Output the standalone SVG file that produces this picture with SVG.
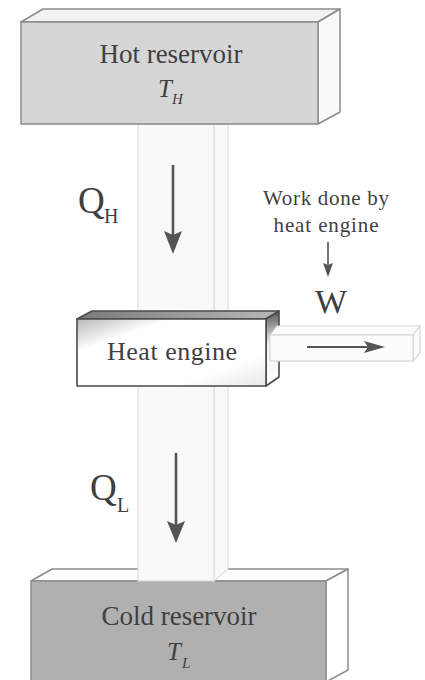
<svg xmlns="http://www.w3.org/2000/svg" width="425" height="680" viewBox="0 0 425 680">
  <defs>
    <linearGradient id="engineFront" x1="0" y1="0" x2="1" y2="1">
      <stop offset="0" stop-color="#b8b8b8"/>
      <stop offset="0.25" stop-color="#ffffff"/>
      <stop offset="0.75" stop-color="#ffffff"/>
      <stop offset="1" stop-color="#e8e8e8"/>
    </linearGradient>
    <linearGradient id="engineTop" x1="0" y1="0" x2="1" y2="0">
      <stop offset="0" stop-color="#7a7a7a"/>
      <stop offset="1" stop-color="#b8b8b8"/>
    </linearGradient>
    <linearGradient id="engineSide" x1="0" y1="0" x2="0" y2="1">
      <stop offset="0" stop-color="#555555"/>
      <stop offset="0.45" stop-color="#f2f2f2"/>
      <stop offset="1" stop-color="#ffffff"/>
    </linearGradient>
  </defs>
  <style>
    .lbl { font-family: "Liberation Serif", "Times New Roman", serif; fill: #3f3f3f; }
    .it { font-style: italic; }
    .res { stroke: #8c8c8c; stroke-width: 1.5; stroke-linejoin: round; }
    .pipe { fill: #f9f9f9; stroke: #dedede; stroke-width: 1.2; }
    .eng { stroke: #4a4a4a; stroke-width: 1.6; stroke-linejoin: round; }
    .bar { fill: #fcfcfc; stroke: #d8d8d8; stroke-width: 1.2; }
    .arrow { stroke: #555; fill: none; }
    .head { fill: #555; stroke: none; }
  </style>

  <rect width="425" height="680" fill="#ffffff"/>

  <!-- cold reservoir block (behind the pipe) -->
  <g id="cold-reservoir">
    <polygon class="res" points="31,581 52,569 348,569 326,581" fill="#ffffff"/>
    <polygon class="res" points="326,581 348,569 348,670 326,682" fill="#ffffff"/>
    <rect class="res" x="31" y="581" width="295" height="104" fill="#b0b0b0"/>
  </g>

  <!-- heat flow pipe from hot to cold reservoir -->
  <g id="pipe">
    <polygon class="pipe" points="214,124 228,124 228,569 214,581"/>
    <rect class="pipe" x="138" y="124" width="76" height="457"/>
  </g>

  <!-- hot reservoir block -->
  <g id="hot-reservoir">
    <polygon class="res" points="21,22 43,9 340,9 318,22" fill="#f2f2f2"/>
    <polygon class="res" points="318,22 340,9 340,112 318,124" fill="#fafafa"/>
    <rect class="res" x="21" y="22" width="297" height="102" fill="#d6d6d6"/>
  </g>

  <!-- heat engine block -->
  <g id="heat-engine">
    <polygon class="eng" points="77,319 92,311 279,311 266,319" fill="url(#engineTop)"/>
    <polygon class="eng" points="266,319 279,311 279,377 266,386" fill="url(#engineSide)"/>
    <rect class="eng" x="77" y="319" width="189" height="67" fill="url(#engineFront)"/>
  </g>

  <!-- work output bar -->
  <g id="work-bar">
    <polygon class="bar" points="270,335 277,326 420,326 413,335"/>
    <polygon class="bar" points="413,335 420,326 420,353 413,361"/>
    <rect class="bar" x="270" y="335" width="143" height="26"/>
  </g>

  <!-- flow arrows -->
  <g id="connectors">
    <line class="arrow" x1="173" y1="165" x2="173" y2="236" stroke-width="2.6"/>
    <path class="head" d="M173,254 L164,231 L173,235 L182,231 Z"/>
    <line class="arrow" x1="176" y1="453" x2="176" y2="525" stroke-width="2.6"/>
    <path class="head" d="M176,543 L167,521 L176,525 L185,521 Z"/>
    <line class="arrow" x1="328" y1="242" x2="328" y2="266" stroke-width="1.6"/>
    <path class="head" d="M328,277 L323,263 L328,265 L333,263 Z"/>
    <line class="arrow" x1="307" y1="347" x2="370" y2="347" stroke-width="2"/>
    <path class="head" d="M385,347 L364,341 L368,347 L364,353 Z"/>
  </g>

  <!-- labels -->
  <g id="labels">
    <text class="lbl" x="171" y="63" font-size="27" text-anchor="middle">Hot reservoir</text>
    <text class="lbl it" x="158" y="97" font-size="25">T</text>
    <text class="lbl it" x="172" y="104" font-size="15">H</text>

    <text class="lbl" x="78" y="213" font-size="37">Q</text>
    <text class="lbl" x="104" y="223" font-size="20">H</text>

    <text class="lbl" x="326" y="205" font-size="21" text-anchor="middle" textLength="126" lengthAdjust="spacing">Work done by</text>
    <text class="lbl" x="326" y="232" font-size="21" text-anchor="middle" textLength="105" lengthAdjust="spacing">heat engine</text>
    <text class="lbl" x="315" y="313" font-size="34">W</text>

    <text class="lbl" x="172" y="360" font-size="26" text-anchor="middle" textLength="130" lengthAdjust="spacing">Heat engine</text>

    <text class="lbl" x="90" y="500" font-size="37">Q</text>
    <text class="lbl" x="117" y="512" font-size="20">L</text>

    <text class="lbl" x="179" y="625" font-size="27" text-anchor="middle">Cold reservoir</text>
    <text class="lbl it" x="167" y="660" font-size="25">T</text>
    <text class="lbl it" x="182" y="668" font-size="15">L</text>
  </g>
</svg>
